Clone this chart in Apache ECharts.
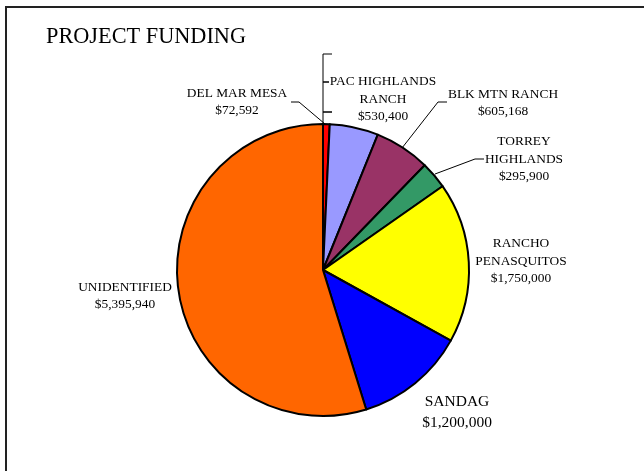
<!DOCTYPE html>
<html>
<head>
<meta charset="utf-8">
<script src="https://cdn.jsdelivr.net/npm/echarts@6/dist/echarts.min.js"></script>
<style>
html,body{margin:0;padding:0;background:#fff;}
#c{width:644px;height:471px;}
</style>
</head>
<body>
<div id="c"></div>
<script>
const title = 'PROJECT FUNDING';
const categories = ['DEL MAR MESA', 'PAC HIGHLANDS\nRANCH', 'BLK MTN RANCH', 'TORREY\nHIGHLANDS', 'RANCHO\nPENASQUITOS', 'SANDAG', 'UNIDENTIFIED'];
const values = [72592, 530400, 605168, 295900, 1750000, 1200000, 5395940];
const colors = ['#FF0000', '#9999FF', '#993366', '#339966', '#FFFF00', '#0000FF', '#FF6600'];

// label placement (centre of each text block) and leader lines
const labelPos = [
  {x: 237, y: 102},
  {x: 383, y: 99},
  {x: 503, y: 103},
  {x: 524, y: 159},
  {x: 521, y: 261},
  {x: 457, y: 412},
  {x: 125, y: 296}
];
const leaders = [
  [[325, 124], [299, 102], [291, 102]],
  [[323, 124], [323, 112], [332, 112], [323, 112], [323, 82], [329, 82], [323, 82], [323, 54], [332, 54]],
  [[402, 148], [438, 102], [447, 102]],
  [[435, 174], [475, 159], [484, 159]],
  null, null, null
];

const fmt = v => '$' + v.toLocaleString('en-US');

const data = categories.map((name, i) => ({
  name: name,
  value: values[i],
  itemStyle: {color: colors[i]},
  label: {fontSize: i === 5 ? 15.5 : 13.4, lineHeight: i === 5 ? 21 : 17.5},
  labelLine: {show: !!leaders[i]}
}));

const chart = echarts.init(document.getElementById('c'), null, {renderer: 'canvas'});
chart.setOption({
  animation: false,
  backgroundColor: '#fff',
  title: {
    text: title,
    left: 46,
    top: 24,
    padding: 0,
    textStyle: {fontFamily: 'Liberation Serif', fontSize: 22.3, fontWeight: 'normal', color: '#000', lineHeight: 26}
  },
  graphic: [{
    type: 'rect',
    shape: {x: 6, y: 7, width: 800, height: 700},
    style: {fill: 'none', stroke: '#222', lineWidth: 2},
    silent: true
  }],
  series: [{
    type: 'pie',
    center: [323, 270],
    radius: 146,
    startAngle: 90,
    clockwise: true,
    avoidLabelOverlap: false,
    emphasis: {disabled: true},
    itemStyle: {borderColor: '#000', borderWidth: 2},
    label: {
      show: true,
      position: 'outside',
      fontFamily: 'Liberation Serif',
      color: '#000',
      align: 'center',
      formatter: p => p.name + '\n' + fmt(p.value)
    },
    labelLine: {show: true, lineStyle: {color: '#000', width: 1}},
    labelLayout: function (params) {
      const i = params.dataIndex;
      const res = {x: labelPos[i].x, y: labelPos[i].y, align: 'center', verticalAlign: 'middle', hideOverlap: false};
      if (leaders[i]) res.labelLinePoints = leaders[i];
      return res;
    },
    data: data
  }]
});
</script>
</body>
</html>
